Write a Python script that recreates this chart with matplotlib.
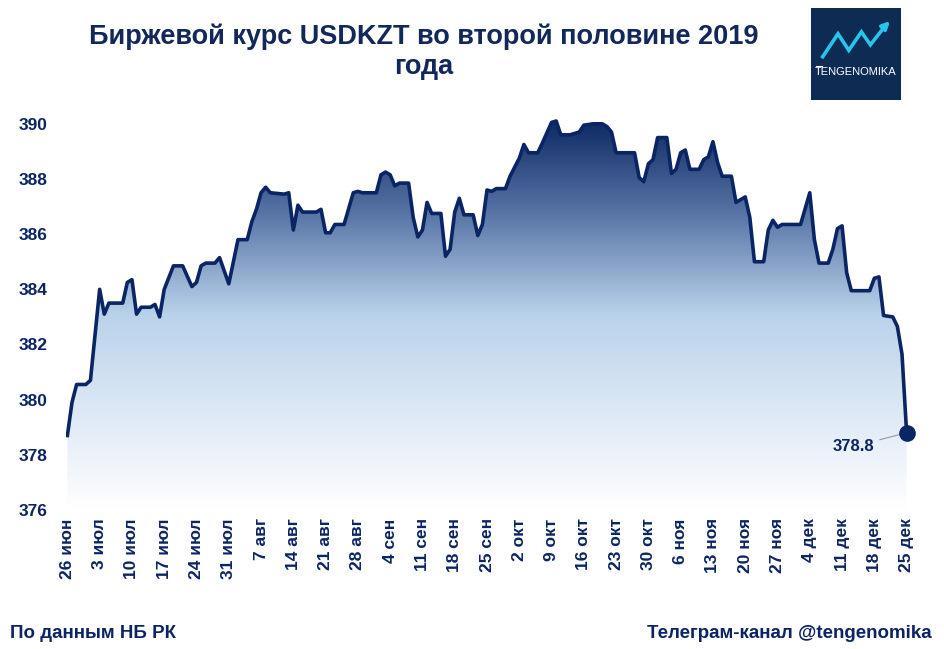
import matplotlib.pyplot as plt
import matplotlib.dates as mdates
from matplotlib.colors import LinearSegmentedColormap
from matplotlib.patches import Polygon
import numpy as np
import pandas as pd

# USDKZT exchange rate, 2nd half of 2019 (turning points)
dates = ["2019-06-26", "2019-06-27", "2019-06-28", "2019-06-30", "2019-07-01",
         "2019-07-03", "2019-07-04", "2019-07-05", "2019-07-08", "2019-07-09",
         "2019-07-10", "2019-07-11", "2019-07-12", "2019-07-14", "2019-07-15",
         "2019-07-16", "2019-07-17", "2019-07-19", "2019-07-21", "2019-07-23",
         "2019-07-24", "2019-07-25", "2019-07-26", "2019-07-28", "2019-07-29",
         "2019-07-31", "2019-08-02", "2019-08-04", "2019-08-05", "2019-08-06",
         "2019-08-07", "2019-08-08", "2019-08-09", "2019-08-12", "2019-08-13",
         "2019-08-14", "2019-08-15", "2019-08-16", "2019-08-19", "2019-08-20",
         "2019-08-21", "2019-08-22", "2019-08-23", "2019-08-25", "2019-08-27",
         "2019-08-28", "2019-08-29", "2019-09-01", "2019-09-02", "2019-09-03",
         "2019-09-04", "2019-09-05", "2019-09-06", "2019-09-08", "2019-09-09",
         "2019-09-10", "2019-09-11", "2019-09-12", "2019-09-13", "2019-09-15",
         "2019-09-16", "2019-09-17", "2019-09-18", "2019-09-19", "2019-09-20",
         "2019-09-22", "2019-09-23", "2019-09-24", "2019-09-25", "2019-09-26",
         "2019-09-27", "2019-09-29", "2019-09-30", "2019-10-02", "2019-10-03",
         "2019-10-04", "2019-10-06", "2019-10-07", "2019-10-09", "2019-10-10",
         "2019-10-11", "2019-10-13", "2019-10-15", "2019-10-16", "2019-10-18",
         "2019-10-20", "2019-10-21", "2019-10-22", "2019-10-23", "2019-10-27",
         "2019-10-28", "2019-10-29", "2019-10-30", "2019-10-31", "2019-11-01",
         "2019-11-03", "2019-11-04", "2019-11-05", "2019-11-06", "2019-11-07",
         "2019-11-08", "2019-11-10", "2019-11-11", "2019-11-12", "2019-11-13",
         "2019-11-14", "2019-11-15", "2019-11-17", "2019-11-18", "2019-11-19",
         "2019-11-20", "2019-11-21", "2019-11-22", "2019-11-24", "2019-11-25",
         "2019-11-26", "2019-11-27", "2019-11-28", "2019-12-02", "2019-12-04",
         "2019-12-05", "2019-12-06", "2019-12-08", "2019-12-09", "2019-12-10",
         "2019-12-11", "2019-12-12", "2019-12-13", "2019-12-17", "2019-12-18",
         "2019-12-19", "2019-12-20", "2019-12-22", "2019-12-23", "2019-12-24",
         "2019-12-25"]
rates = [378.7, 379.9, 380.55, 380.55, 380.7,
         384.0, 383.1, 383.5, 383.5, 384.25,
         384.35, 383.1, 383.35, 383.35, 383.45,
         383.0, 384.0, 384.85, 384.85, 384.1,
         384.25, 384.85, 384.95, 384.95, 385.15,
         384.2, 385.8, 385.8, 386.45, 386.9,
         387.5, 387.7, 387.5, 387.45, 387.5,
         386.15, 387.05, 386.8, 386.8, 386.9,
         386.05, 386.05, 386.35, 386.35, 387.5,
         387.55, 387.5, 387.5, 388.15, 388.25,
         388.15, 387.75, 387.85, 387.85, 386.6,
         385.9, 386.15, 387.15, 386.75, 386.75,
         385.2, 385.45, 386.8, 387.3, 386.7,
         386.7, 385.95, 386.35, 387.6, 387.55,
         387.65, 387.65, 388.1, 388.75, 389.25,
         388.95, 388.95, 389.3, 390.05, 390.1,
         389.6, 389.6, 389.7, 389.95, 390.0,
         390.0, 389.9, 389.7, 388.95, 388.95,
         388.05, 387.9, 388.55, 388.7, 389.5,
         389.5, 388.2, 388.35, 388.95, 389.05,
         388.35, 388.35, 388.7, 388.8, 389.35,
         388.6, 388.1, 388.1, 387.15, 387.25,
         387.35, 386.6, 385.0, 385.0, 386.15,
         386.5, 386.25, 386.35, 386.35, 387.5,
         385.8, 384.95, 384.95, 385.45, 386.2,
         386.3, 384.6, 383.95, 383.95, 384.4,
         384.45, 383.05, 383.0, 382.65, 381.65,
         378.8]
tick_dates = pd.date_range("2019-06-26", "2019-12-25", freq="7D")
tick_labels = ["26 июн", "3 июл", "10 июл", "17 июл", "24 июл", "31 июл",
               "7 авг", "14 авг", "21 авг", "28 авг", "4 сен", "11 сен",
               "18 сен", "25 сен", "2 окт", "9 окт", "16 окт", "23 окт",
               "30 окт", "6 ноя", "13 ноя", "20 ноя", "27 ноя", "4 дек",
               "11 дек", "18 дек", "25 дек"]

navy = "#0b2463"
plt.rcParams['font.family'] = ['Liberation Sans', 'DejaVu Sans']

fig = plt.figure(figsize=(9.44, 6.49), dpi=100)
ax = fig.add_axes([66 / 944, 1 - 510 / 649, 842 / 944, 400 / 649])

x = mdates.date2num(pd.to_datetime(dates))
y = np.array(rates)
ymin, ymax = 376, 390.5

# gradient fill under the line
cmap = LinearSegmentedColormap.from_list(
    "fade", [(0.0, "#ffffff"), (0.2, "#e4edf7"), (0.5, "#b9d2ea"),
             (0.75, "#5b77a8"), (1.0, "#0c2862")])
grad = np.linspace(0, 1, 256).reshape(-1, 1)
img = ax.imshow(grad, cmap=cmap, aspect="auto", origin="lower",
                extent=[x[0], x[-1], ymin, 390.2], zorder=1)
poly = Polygon(np.column_stack([np.r_[x[0], x, x[-1]], np.r_[ymin, y, ymin]]),
               closed=True, facecolor="none", edgecolor="none")
ax.add_patch(poly)
img.set_clip_path(poly)

ax.plot(x, y, color=navy, lw=2.6, solid_joinstyle="round", zorder=3)
ax.plot(x[-1], y[-1], "o", color=navy, ms=11, zorder=4, clip_on=False)
ax.annotate(f"{rates[-1]}", xy=(x[-1], y[-1]), xytext=(x[-1] - 7.0, y[-1] - 0.5),
            ha="right", va="center", fontsize=12, fontweight="bold", color=navy,
            arrowprops=dict(arrowstyle="-", color="#999999", lw=0.8,
                            shrinkA=2, shrinkB=4))

ax.set_xlim(x[0] - 0.3, x[-1] + 0.3)
ax.set_ylim(ymin, ymax)
ax.set_yticks(range(376, 391, 2))
ax.set_xticks(mdates.date2num(tick_dates))
ax.set_xticklabels(tick_labels, rotation=90, va="top")
ax.tick_params(axis="both", length=0, labelsize=12.5, labelcolor=navy)
ax.tick_params(axis="y", pad=13)
ax.tick_params(axis="x", pad=6)
for lab in ax.get_xticklabels() + ax.get_yticklabels():
    lab.set_fontweight("bold")
for s in ax.spines.values():
    s.set_visible(False)

fig.text(0.449, 1 - 52 / 649, "Биржевой курс USDKZT во второй половине 2019\nгода",
         ha="center", va="center", fontsize=19.5, fontweight="bold",
         color="#13285a", linespacing=1.2)

narrow = ['Liberation Sans Narrow', 'Liberation Sans', 'DejaVu Sans']
fig.text(10 / 944, 1 - 634 / 649, "По данным НБ РК", ha="left", va="center",
         fontsize=13.5, fontweight="bold", color=navy, family=narrow)
fig.text(932 / 944, 1 - 634 / 649, "Телеграм-канал @tengenomika", ha="right",
         va="center", fontsize=13.5, fontweight="bold", color=navy, family=narrow)

# logo
lg = fig.add_axes([811 / 944, 1 - 100 / 649, 90 / 944, 92 / 649])
lg.set_facecolor("#0e2b54")
lg.set_xlim(0, 1)
lg.set_ylim(0, 1)
lg.set_xticks([])
lg.set_yticks([])
for s in lg.spines.values():
    s.set_visible(False)
lg.plot([0.13, 0.3, 0.42, 0.56, 0.66, 0.82], [0.47, 0.72, 0.54, 0.74, 0.6, 0.8],
        color="#27c4ec", lw=2.6, solid_joinstyle="miter")
lg.annotate("", xy=(0.9, 0.88), xytext=(0.78, 0.76),
            arrowprops=dict(arrowstyle="-|>", color="#27c4ec", lw=2.6,
                            mutation_scale=11))
lg.plot([0.06, 0.12], [0.375, 0.375], color="white", lw=0.8)
lg.text(0.5, 0.3, "TENGENOMIKA", ha="center", va="center", color="white",
        fontsize=8)

fig.savefig("out.png", dpi=100)
